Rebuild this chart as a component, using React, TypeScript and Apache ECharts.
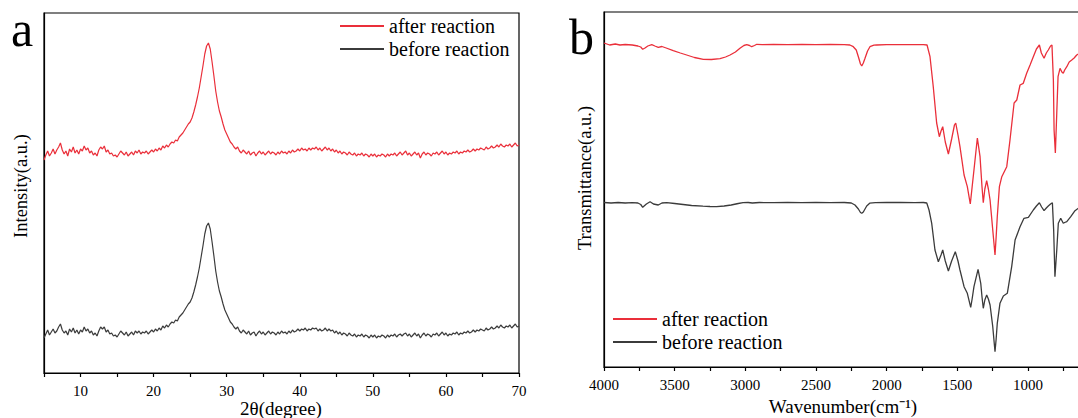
import React, { useEffect, useRef } from "react";
import * as echarts from "echarts";

// ---------- Panel a: XRD (2θ from 5° in 0.25° steps) ----------
const XRD_START = 5;
const XRD_STEP = 0.25;
const xrdTickValues = [10, 20, 30, 40, 50, 60, 70];

const xrdAfter = [
  213, 218, 222, 217, 220, 224, 219, 223, 226, 230, 223, 219, 222, 217, 224, 221, 226, 220, 223, 219,
  224, 222, 227, 223, 225, 220, 222, 218, 220, 217, 223, 226, 224, 227, 221, 223, 219, 220, 217, 218,
  216, 219, 222, 220, 218, 221, 217, 219, 221, 218, 222, 220, 223, 219, 221, 220, 222, 219, 221, 223,
  221, 224, 222, 225, 223, 227, 225, 228, 226, 229, 231, 230, 233, 232, 236, 238, 240, 243, 246, 249,
  251, 255, 261, 268, 276, 285, 296, 307, 319, 327, 330, 324, 311, 297, 282, 271, 262, 256, 249, 243,
  239, 235, 231, 229, 226, 224, 226, 222, 220, 223, 221, 219, 222, 218, 220, 221, 217, 220, 222, 219,
  221, 218, 220, 222, 219, 221, 220, 218, 221, 219, 222, 220, 221, 219, 222, 220, 223, 221, 222, 224,
  222, 225, 223, 224, 222, 225, 223, 225, 224, 226, 223, 225, 222, 224, 226, 223, 225, 222, 224, 221,
  223, 220, 222, 219, 221, 220, 218, 221, 219, 218, 220, 217, 219, 218, 220, 217, 219, 218, 216, 219,
  217, 219, 216, 218, 217, 219, 218, 216, 219, 217, 219, 218, 220, 217, 219, 221, 218, 220, 222, 218,
  220, 217, 219, 221, 218, 220, 215, 219, 221, 218, 220, 219, 217, 220, 219, 221, 218, 220, 222, 219,
  221, 218, 220, 219, 221, 220, 222, 219, 221, 220, 222, 221, 223, 221, 222, 224, 222, 224, 223, 225,
  224, 223, 226, 224, 225, 227, 225, 226, 228, 226, 229, 227, 226, 228, 227, 229, 226, 228, 230, 227,
  228,
];

const xrdBefore = [
  35, 39, 43, 38, 41, 44, 40, 42, 46, 49, 43, 40, 42, 38, 44, 41, 45, 40, 43, 39,
  43, 41, 46, 42, 44, 40, 42, 38, 40, 37, 42, 46, 44, 46, 41, 43, 39, 40, 37, 38,
  36, 39, 42, 40, 38, 41, 37, 39, 41, 38, 42, 40, 42, 39, 41, 40, 42, 39, 41, 43,
  41, 44, 42, 45, 43, 47, 45, 48, 46, 49, 51, 50, 53, 52, 56, 58, 60, 63, 66, 69,
  71, 75, 81, 88, 96, 105, 116, 127, 139, 147, 150, 144, 131, 117, 102, 91, 82, 76, 69, 63,
  59, 55, 51, 49, 46, 44, 46, 42, 40, 43, 41, 39, 42, 38, 40, 41, 37, 40, 42, 39,
  41, 38, 40, 42, 39, 41, 40, 38, 41, 39, 42, 40, 41, 39, 42, 40, 43, 41, 42, 44,
  42, 44, 43, 45, 42, 44, 43, 45, 44, 45, 42, 44, 42, 43, 45, 42, 44, 42, 43, 40,
  42, 39, 41, 38, 40, 39, 37, 40, 38, 37, 39, 36, 38, 37, 39, 36, 38, 37, 35, 38,
  36, 38, 35, 37, 36, 38, 37, 35, 38, 36, 38, 37, 39, 36, 38, 39, 37, 39, 40, 37,
  39, 36, 38, 40, 37, 39, 35, 38, 40, 37, 39, 38, 36, 39, 38, 40, 37, 39, 41, 38,
  40, 37, 39, 38, 40, 39, 41, 38, 40, 39, 41, 40, 42, 40, 41, 43, 41, 43, 42, 44,
  43, 42, 45, 43, 44, 46, 44, 45, 47, 45, 48, 46, 45, 47, 46, 48, 45, 47, 49, 46,
  47,
];

// ---------- Panel b: FTIR [wavenumber, transmittance (a.u.)] ----------
const ftirTickValues = [4000, 3500, 3000, 2500, 2000, 1500, 1000];

const ftirAfter: [number, number][] = [
  [4000, 324], [3960, 322], [3920, 323], [3887, 322], [3850, 322.5], [3800, 322], [3760, 321], [3740, 320],
  [3726, 317.7], [3710, 319], [3690, 321], [3662, 322.3], [3640, 321], [3616, 319.7], [3590, 320.5], [3560, 319],
  [3510, 316.3], [3460, 314], [3415, 312], [3360, 309.5], [3297, 307.7], [3240, 307.5], [3179, 308.3], [3140, 310],
  [3108, 312], [3070, 315], [3038, 318.7], [3010, 321.5], [2990, 322.3], [2970, 321.5], [2955, 320.3], [2935, 321.5],
  [2919, 322.7], [2880, 322.3], [2800, 322.5], [2700, 322.3], [2600, 322.5], [2500, 322.3], [2400, 322.5], [2300, 322.3],
  [2260, 322], [2236, 320.3], [2215, 317], [2200, 310.3], [2185, 303], [2176, 301], [2165, 304], [2153, 308.7],
  [2135, 316], [2118, 320.3], [2090, 321.8], [2070, 322], [2000, 322.3], [1900, 322.3], [1800, 322.3], [1740, 322.3],
  [1714, 322], [1693, 310.3], [1670, 280.3], [1646, 244], [1627, 230.3], [1615, 236], [1603, 240.3], [1585, 225],
  [1563, 213], [1540, 228], [1520, 242], [1511, 244], [1495, 232], [1481, 220.3], [1452, 192], [1429, 180.3],
  [1408, 163], [1395, 180], [1382, 197], [1358, 229], [1339, 210.3], [1325, 180], [1316, 164.3], [1305, 178],
  [1292, 186.3], [1280, 178], [1268, 167], [1249, 137], [1233, 112], [1225, 130], [1217, 150.3], [1202, 180.3],
  [1185, 190.3], [1150, 200.3], [1127, 227], [1098, 264], [1079, 267], [1056, 282], [1033, 283.7], [1009, 293.7],
  [985, 302], [962, 310.3], [940, 318], [919, 322], [905, 314], [886, 308.7], [870, 314], [856, 317],
  [840, 321], [830, 322], [820, 287], [815, 237], [806, 214], [796, 254], [787, 290.3], [773, 298.7],
  [760, 295], [750, 293.7], [740, 297], [725, 300.3], [708, 305], [690, 307], [673, 309], [655, 312], [630, 314],
];

const ftirBefore: [number, number][] = [
  [4000, 164.5], [3950, 164], [3900, 164.5], [3850, 164], [3800, 164.3], [3760, 164], [3740, 162.5], [3726, 159.7],
  [3700, 163], [3674, 165.3], [3650, 163], [3616, 162], [3590, 164], [3556, 164.3], [3500, 163.5], [3440, 162.5],
  [3380, 161.5], [3300, 160.8], [3250, 160.5], [3203, 160.3], [3150, 161], [3100, 162], [3050, 163.5], [3016, 164.3],
  [2980, 164.5], [2950, 164], [2900, 164.5], [2800, 164.3], [2700, 164.5], [2600, 164.3], [2500, 164.5], [2400, 164.3],
  [2300, 164.5], [2250, 164], [2224, 162], [2200, 158], [2185, 154.5], [2176, 153.7], [2165, 155], [2141, 161],
  [2120, 163.8], [2080, 164.3], [2000, 164.5], [1900, 164.5], [1800, 164.3], [1740, 164.5], [1716, 164], [1700, 157],
  [1681, 143.7], [1658, 117], [1634, 105.3], [1615, 112], [1603, 117], [1585, 106], [1563, 96], [1540, 106],
  [1514, 115.3], [1495, 106], [1481, 97], [1452, 80.3], [1429, 73.7], [1405, 59.7], [1395, 68], [1382, 80.3],
  [1353, 97.7], [1334, 83.7], [1325, 70], [1316, 58.7], [1305, 67], [1292, 72], [1280, 68], [1268, 62],
  [1249, 40.3], [1233, 15.3], [1225, 28], [1217, 43.7], [1198, 63.7], [1174, 71], [1146, 73.7], [1115, 100.3],
  [1091, 127], [1056, 140.3], [1028, 148.7], [997, 149.7], [962, 157], [940, 161], [919, 164.3], [903, 160],
  [886, 156.3], [870, 159], [856, 161], [840, 163], [827, 164.3], [818, 137], [809, 90.3], [796, 117],
  [785, 143.7], [768, 148.7], [750, 143.7], [740, 144.5], [725, 145.3], [697, 150.3], [667, 156.3], [640, 159],
];

const SERIES_NAMES = ["after reaction", "before reaction"];
const RED = "#ea2f3a";
const DARK = "#3b3b3b";
const FONT = "Liberation Serif";

export default function App() {
  const ref = useRef<HTMLDivElement>(null);

  useEffect(() => {
    if (!ref.current) return;
    const chart = echarts.init(ref.current, undefined, { renderer: "svg" });
    const toXY = (arr: number[]) => arr.map((v, i) => [XRD_START + XRD_STEP * i, v]);

    const axisLine = { show: true, lineStyle: { color: "#000", width: 1.2 } };
    const labelStyle = { color: "#000", fontFamily: FONT, fontSize: 15 };
    const legendText = { fontSize: 20, lineHeight: 20, fontFamily: FONT, color: "#000" };

    chart.setOption({
      animation: false,
      textStyle: { fontFamily: FONT, color: "#000" },
      grid: [
        { left: 44, top: 13, width: 475, height: 360, show: true, borderColor: "#000", borderWidth: 1.2, outerBoundsMode: "none", containLabel: false },
        { left: 604, top: 12, width: 494.6, height: 355, show: true, borderColor: "#000", borderWidth: 1.2, outerBoundsMode: "none", containLabel: false },
      ],
      xAxis: [
        {
          gridIndex: 0,
          type: "value",
          min: 5,
          max: 70,
          interval: 5,
          axisLine,
          axisTick: { show: true, length: 4, lineStyle: { color: "#000", width: 1.2 } },
          axisLabel: {
            ...labelStyle,
            margin: 10,
            showMinLabel: true,
            showMaxLabel: true,
            hideOverlap: false,
            formatter: (v: number) => (xrdTickValues.includes(v) ? String(v) : ""),
          },
          splitLine: { show: false },
        },
        {
          gridIndex: 1,
          type: "value",
          min: 500,
          max: 4000,
          interval: 500,
          inverse: true,
          axisLine,
          axisTick: { show: true, length: 4, lineStyle: { color: "#000", width: 1.2 } },
          minorTick: { show: true, splitNumber: 2, length: 4, lineStyle: { color: "#000", width: 1.2 } },
          axisLabel: {
            ...labelStyle,
            margin: 10,
            showMinLabel: true,
            showMaxLabel: true,
            hideOverlap: false,
            formatter: (v: number) => (ftirTickValues.includes(v) ? String(v) : ""),
          },
          splitLine: { show: false },
        },
      ],
      yAxis: [
        {
          gridIndex: 0, type: "value", min: 0, max: 360, axisLine,
          axisTick: { show: false }, axisLabel: { show: false }, splitLine: { show: false },
        },
        {
          gridIndex: 1, type: "value", min: 0, max: 355, axisLine,
          axisTick: { show: false }, axisLabel: { show: false }, splitLine: { show: false },
        },
      ],
      legend: [
        {
          left: 340, top: 16, orient: "vertical", padding: 0, itemWidth: 44, itemHeight: 2, itemGap: 3,
          icon: "rect", data: SERIES_NAMES, textStyle: legendText,
        },
        {
          left: 613, top: 309, orient: "vertical", padding: 0, itemWidth: 44, itemHeight: 2, itemGap: 3,
          icon: "rect", data: SERIES_NAMES, textStyle: legendText,
        },
      ],
      series: [
        {
          name: SERIES_NAMES[0], type: "line", xAxisIndex: 0, yAxisIndex: 0, data: toXY(xrdAfter),
          showSymbol: false, symbol: "none", lineStyle: { color: RED, width: 1.2 }, itemStyle: { color: RED },
        },
        {
          name: SERIES_NAMES[1], type: "line", xAxisIndex: 0, yAxisIndex: 0, data: toXY(xrdBefore),
          showSymbol: false, symbol: "none", lineStyle: { color: DARK, width: 1.2 }, itemStyle: { color: DARK },
        },
        {
          name: SERIES_NAMES[0], type: "line", xAxisIndex: 1, yAxisIndex: 1, data: ftirAfter,
          showSymbol: false, symbol: "none", lineStyle: { color: RED, width: 1.3 }, itemStyle: { color: RED },
        },
        {
          name: SERIES_NAMES[1], type: "line", xAxisIndex: 1, yAxisIndex: 1, data: ftirBefore,
          showSymbol: false, symbol: "none", lineStyle: { color: DARK, width: 1.3 }, itemStyle: { color: DARK },
        },
      ],
      graphic: [
        { type: "text", x: 11, y: 29, style: { text: "a", fontSize: 50, fontFamily: FONT, fill: "#000", align: "left", verticalAlign: "middle" } },
        { type: "text", x: 569, y: 37, style: { text: "b", fontSize: 50, fontFamily: FONT, fill: "#000", align: "left", verticalAlign: "middle" } },
        { type: "text", x: 281, y: 408, style: { text: "2θ(degree)", fontSize: 19, fontFamily: FONT, fill: "#000", align: "center", verticalAlign: "middle" } },
        { type: "text", x: 21, y: 186, rotation: Math.PI / 2, style: { text: "Intensity(a.u.)", fontSize: 18.5, fontFamily: FONT, fill: "#000", align: "center", verticalAlign: "middle" } },
        { type: "text", x: 585, y: 178, rotation: Math.PI / 2, style: { text: "Transmittance(a.u.)", fontSize: 18.5, fontFamily: FONT, fill: "#000", align: "center", verticalAlign: "middle" } },
        { type: "text", x: 843, y: 406, style: { text: "Wavenumber(cm⁻¹)", fontSize: 19, fontFamily: FONT, fill: "#000", align: "center", verticalAlign: "middle" } },
      ],
    });

    return () => chart.dispose();
  }, []);

  return (
    <div
      ref={ref}
      style={{ position: "fixed", left: 0, top: 0, width: 1078, height: 418, background: "#fff", overflow: "hidden" }}
    />
  );
}
